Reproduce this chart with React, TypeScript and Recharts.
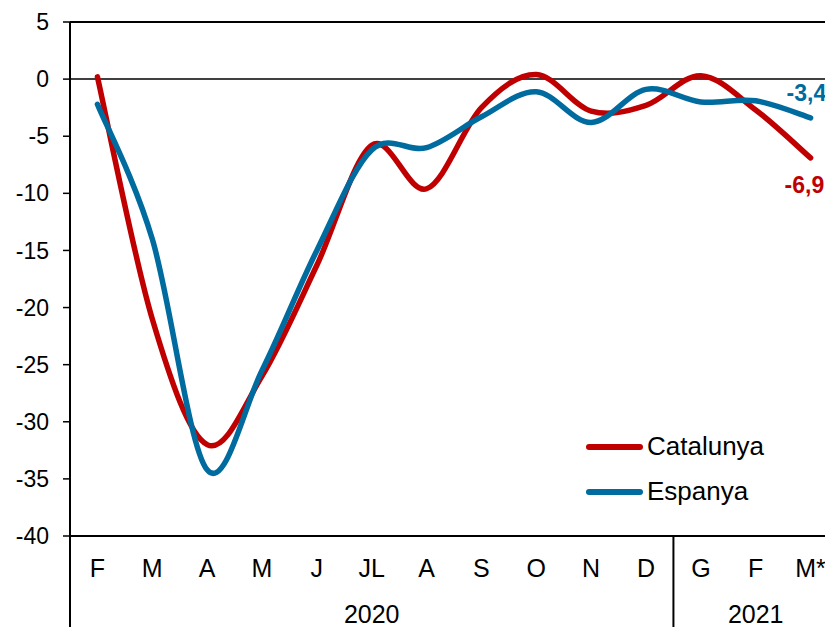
import { LineChart, Line, XAxis, YAxis, ReferenceLine, Legend, LabelList } from "recharts";

const MONTHS = ["F", "M", "A", "M", "J", "JL", "A", "S", "O", "N", "D", "G", "F", "M*"];
const CATALUNYA = [0.2, -21, -32, -26, -16.3, -5.8, -9.6, -2.5, 0.4, -2.8, -2.3, 0.3, -2.7, -6.9];
const ESPANYA = [-2.2, -14, -34.2, -25.5, -15, -6.2, -6.0, -3.3, -1.1, -3.8, -0.9, -2.0, -1.9, -3.4];
const Y_TICKS = [-40, -35, -30, -25, -20, -15, -10, -5, 0, 5];
const YEARS = [
  { label: "2020", from: 0, to: 10 },
  { label: "2021", from: 11, to: 13 },
];

const RED = "#C00000";
const BLUE = "#006B9F";
const FONT = "'Liberation Sans', Arial, sans-serif";

const CHART_W = 860;
const CHART_H = 627;
const PLOT_LEFT = 70;
const PLOT_TOP = 22;
const PLOT_W = 768;
const PLOT_H = 514;
const AXIS_Y = PLOT_TOP + PLOT_H;
const BAND = PLOT_W / MONTHS.length;

const data = MONTHS.map((m, i) => ({ m, cat: CATALUNYA[i], esp: ESPANYA[i] }));

// Excel-like smoothing (Catmull-Rom through the points)
function smoothCurve(context: any) {
  let pts: [number, number][] = [];
  return {
    areaStart() {},
    areaEnd() {},
    lineStart() {
      pts = [];
    },
    point(x: number, y: number) {
      pts.push([+x, +y]);
    },
    lineEnd() {
      if (!pts.length) return;
      context.moveTo(pts[0][0], pts[0][1]);
      for (let i = 0; i < pts.length - 1; i++) {
        const p0 = pts[i - 1] || pts[i];
        const p1 = pts[i];
        const p2 = pts[i + 1];
        const p3 = pts[i + 2] || pts[i + 1];
        context.bezierCurveTo(
          p1[0] + (p2[0] - p0[0]) / 6,
          p1[1] + (p2[1] - p0[1]) / 6,
          p2[0] - (p3[0] - p1[0]) / 6,
          p2[1] - (p3[1] - p1[1]) / 6,
          p2[0],
          p2[1]
        );
      }
    },
  };
}

function MonthTick(props: any) {
  const { x, index, payload } = props;
  const left = x - BAND / 2;
  const group = YEARS.find((g) => g.from === index);
  return (
    <g>
      <text x={x} y={AXIS_Y + 41} textAnchor="middle" fontSize={25} fontFamily={FONT} fill="#000">
        {payload.value}
      </text>
      {group && (
        <>
          <line x1={left} x2={left} y1={AXIS_Y} y2={CHART_H} stroke="#000" strokeWidth={2} />
          <text
            x={left + ((group.to - group.from + 1) * BAND) / 2}
            y={AXIS_Y + 87}
            textAnchor="middle"
            fontSize={25}
            fontFamily={FONT}
            fill="#000"
          >
            {group.label}
          </text>
        </>
      )}
    </g>
  );
}

function endLabel(color: string, dx: number, dy: number) {
  return (p: any) => {
    if (p.index !== MONTHS.length - 1) return null;
    return (
      <text
        x={p.x + dx}
        y={p.y + dy}
        fill={color}
        fontSize={23}
        fontWeight="bold"
        fontFamily={FONT}
      >
        {String(p.value).replace(".", ",")}
      </text>
    );
  };
}

function LegendBox({ payload }: any) {
  return (
    <div style={{ fontFamily: FONT, fontSize: 26, color: "#000" }}>
      {(payload || []).map((p: any) => (
        <div key={p.value} style={{ display: "flex", alignItems: "center", height: 45 }}>
          <span
            style={{
              display: "inline-block",
              width: 57,
              height: 6,
              borderRadius: 3,
              background: p.color,
              marginRight: 4,
            }}
          />
          {p.value}
        </div>
      ))}
    </div>
  );
}

export default function App() {
  return (
    <div
      style={{
        position: "absolute",
        left: 0,
        top: 0,
        width: 825,
        height: 627,
        overflow: "hidden",
        background: "#fff",
      }}
    >
      <LineChart
        width={CHART_W}
        height={CHART_H}
        data={data}
        margin={{ top: PLOT_TOP, right: CHART_W - PLOT_LEFT - PLOT_W, bottom: 0, left: 0 }}
      >
        <XAxis
          dataKey="m"
          interval={0}
          padding={{ left: BAND / 2, right: BAND / 2 }}
          height={CHART_H - AXIS_Y}
          tickLine={false}
          tickSize={0}
          axisLine={{ stroke: "#000", strokeWidth: 2 }}
          tick={(p: any) => <MonthTick {...p} />}
        />
        <YAxis
          width={PLOT_LEFT}
          domain={[-40, 5]}
          ticks={Y_TICKS}
          interval={0}
          tickSize={7}
          tickMargin={14}
          axisLine={{ stroke: "#000", strokeWidth: 2 }}
          tickLine={{ stroke: "#000", strokeWidth: 1.5 }}
          tick={{ fill: "#000", fontSize: 23, fontFamily: FONT }}
        />
        <ReferenceLine y={5} stroke="#000" strokeWidth={2} />
        <ReferenceLine y={0} stroke="#000" strokeWidth={1.5} />
        <Legend
          layout="vertical"
          align="center"
          verticalAlign="middle"
          wrapperStyle={{ left: 586, top: 424, width: 230 }}
          content={<LegendBox />}
        />
        <Line
          name="Catalunya"
          dataKey="cat"
          type={smoothCurve as any}
          stroke={RED}
          strokeWidth={5.5}
          strokeLinecap="round"
          dot={false}
          activeDot={false}
          isAnimationActive={false}
        >
          <LabelList dataKey="cat" content={endLabel(RED, -26, 35)} />
        </Line>
        <Line
          name="Espanya"
          dataKey="esp"
          type={smoothCurve as any}
          stroke={BLUE}
          strokeWidth={5.5}
          strokeLinecap="round"
          dot={false}
          activeDot={false}
          isAnimationActive={false}
        >
          <LabelList dataKey="esp" content={endLabel(BLUE, -24, -17)} />
        </Line>
      </LineChart>
    </div>
  );
}
